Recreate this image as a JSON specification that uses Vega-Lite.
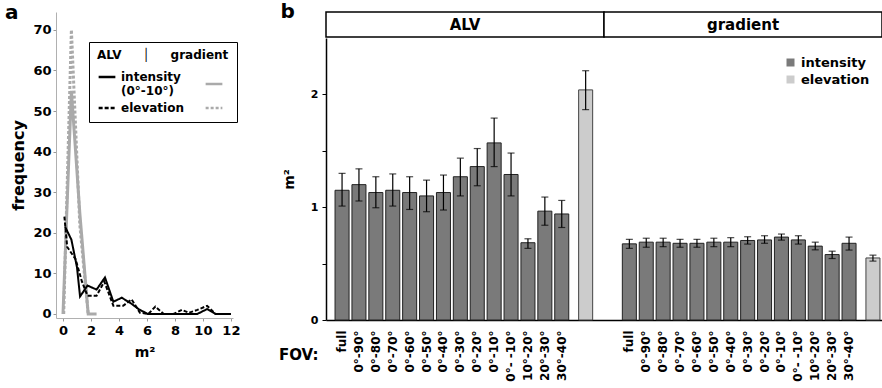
{
  "$schema": "https://vega.github.io/schema/vega-lite/v6.json",
  "padding": {"left": 4, "top": 2, "right": 0, "bottom": 0},
  "config": {
    "font": "DejaVu Sans",
    "view": {"stroke": null},
    "title": {"fontSize": 20, "fontWeight": "bold", "anchor": "start", "frame": "bounds"}
  },
  "spacing": 38,
  "resolve": {"scale": {"color": "independent", "strokeDash": "independent"}, "legend": {"color": "independent", "strokeDash": "independent"}},
  "hconcat": [
    {
      "title": {"text": "a", "offset": -11, "dx": -6},
      "width": 177,
      "height": 306,
      "data": {"values": [
        {"src": "ALV", "series": "ALV intensity", "x": 0.15, "y": 21.5},
        {"src": "ALV", "series": "ALV intensity", "x": 0.6, "y": 18.3},
        {"src": "ALV", "series": "ALV intensity", "x": 1.0, "y": 11.5},
        {"src": "ALV", "series": "ALV intensity", "x": 1.22, "y": 4.3},
        {"src": "ALV", "series": "ALV intensity", "x": 1.75, "y": 7},
        {"src": "ALV", "series": "ALV intensity", "x": 2.4, "y": 6},
        {"src": "ALV", "series": "ALV intensity", "x": 3.0, "y": 9},
        {"src": "ALV", "series": "ALV intensity", "x": 3.6, "y": 3},
        {"src": "ALV", "series": "ALV intensity", "x": 4.2, "y": 4},
        {"src": "ALV", "series": "ALV intensity", "x": 4.9, "y": 2.5},
        {"src": "ALV", "series": "ALV intensity", "x": 5.4, "y": 1.2},
        {"src": "ALV", "series": "ALV intensity", "x": 6.05, "y": 0},
        {"src": "ALV", "series": "ALV intensity", "x": 7.2, "y": 0},
        {"src": "ALV", "series": "ALV intensity", "x": 8.4, "y": 0},
        {"src": "ALV", "series": "ALV intensity", "x": 9.6, "y": 0},
        {"src": "ALV", "series": "ALV intensity", "x": 10.3, "y": 1.2},
        {"src": "ALV", "series": "ALV intensity", "x": 10.9, "y": 0},
        {"src": "ALV", "series": "ALV intensity", "x": 12.0, "y": 0},
        {"src": "ALV", "series": "ALV elevation", "x": 0.1, "y": 24},
        {"src": "ALV", "series": "ALV elevation", "x": 0.3, "y": 16.5},
        {"src": "ALV", "series": "ALV elevation", "x": 0.9, "y": 13.5},
        {"src": "ALV", "series": "ALV elevation", "x": 1.35, "y": 8},
        {"src": "ALV", "series": "ALV elevation", "x": 1.75, "y": 4.5},
        {"src": "ALV", "series": "ALV elevation", "x": 2.4, "y": 4.5},
        {"src": "ALV", "series": "ALV elevation", "x": 2.95, "y": 8},
        {"src": "ALV", "series": "ALV elevation", "x": 3.6, "y": 2},
        {"src": "ALV", "series": "ALV elevation", "x": 4.3, "y": 2},
        {"src": "ALV", "series": "ALV elevation", "x": 4.9, "y": 3.6},
        {"src": "ALV", "series": "ALV elevation", "x": 5.5, "y": 0.3},
        {"src": "ALV", "series": "ALV elevation", "x": 6.1, "y": 0},
        {"src": "ALV", "series": "ALV elevation", "x": 6.6, "y": 1.8},
        {"src": "ALV", "series": "ALV elevation", "x": 7.2, "y": 0},
        {"src": "ALV", "series": "ALV elevation", "x": 7.9, "y": 0},
        {"src": "ALV", "series": "ALV elevation", "x": 8.5, "y": 1},
        {"src": "ALV", "series": "ALV elevation", "x": 9.0, "y": 0.3},
        {"src": "ALV", "series": "ALV elevation", "x": 9.6, "y": 1},
        {"src": "ALV", "series": "ALV elevation", "x": 10.3, "y": 2},
        {"src": "ALV", "series": "ALV elevation", "x": 10.9, "y": 0},
        {"src": "ALV", "series": "ALV elevation", "x": 12.0, "y": 0},
        {"src": "gradient", "series": "gradient intensity", "x": 0.0, "y": 0},
        {"src": "gradient", "series": "gradient intensity", "x": 0.6, "y": 55},
        {"src": "gradient", "series": "gradient intensity", "x": 1.2, "y": 25},
        {"src": "gradient", "series": "gradient intensity", "x": 1.8, "y": 0},
        {"src": "gradient", "series": "gradient intensity", "x": 2.4, "y": 0},
        {"src": "gradient", "series": "gradient elevation", "x": 0.05, "y": 0},
        {"src": "gradient", "series": "gradient elevation", "x": 0.6, "y": 70},
        {"src": "gradient", "series": "gradient elevation", "x": 1.2, "y": 22},
        {"src": "gradient", "series": "gradient elevation", "x": 1.8, "y": 0}
      ]},
      "encoding": {
        "x": {"field": "x", "type": "quantitative",
          "scale": {"domain": [-0.5, 12.15], "nice": false, "zero": false},
          "axis": {"values": [0, 2, 4, 6, 8, 10, 12], "title": "m²", "grid": false,
            "labelFontSize": 13, "labelFontWeight": "bold", "labelColor": "black",
            "titleFontSize": 14, "titleFontWeight": "bold", "titlePadding": 8,
            "domainColor": "#b0b0b0", "tickColor": "#999", "tickSize": 3, "labelPadding": 3}},
        "y": {"field": "y", "type": "quantitative",
          "scale": {"domain": [-1, 74.4], "nice": false, "zero": false},
          "axis": {"values": [0, 10, 20, 30, 40, 50, 60, 70], "title": "frequency", "grid": false,
            "labelFontSize": 13, "labelFontWeight": "bold", "labelColor": "black",
            "titleFontSize": 16, "titleFontWeight": "bold", "titlePadding": 6,
            "domainColor": "#b0b0b0", "tickColor": "#999", "tickSize": 3, "labelPadding": 2}},
        "color": {"field": "series", "type": "nominal",
          "scale": {"domain": ["ALV intensity", "ALV elevation", "gradient intensity", "gradient elevation"],
                    "range": ["black", "black", "#aaaaaa", "#aaaaaa"]},
          "legend": {"orient": "none", "legendX": 33, "legendY": 30, "columns": 2,
            "title": "ALV\u00a0\u00a0\u00a0\u00a0\u00a0│\u00a0\u00a0\u00a0\u00a0\u00a0gradient",
            "titleFontSize": 12, "titleFontWeight": "bold", "titleColor": "black",
            "labelFontSize": 12, "labelFontWeight": "bold", "labelColor": "black",
            "labelExpr": "datum.value == 'ALV intensity' ? ['intensity', '(0°-10°)'] : (datum.value == 'ALV elevation' ? 'elevation' : '')",
            "symbolType": "stroke", "symbolSize": 280, "symbolStrokeWidth": 2.5,
            "strokeColor": "black", "fillColor": "white", "padding": 8, "columnPadding": 16, "rowPadding": 1}},
        "strokeDash": {"field": "series", "type": "nominal",
          "scale": {"domain": ["ALV intensity", "ALV elevation", "gradient intensity", "gradient elevation"],
                    "range": [[1, 0], [4, 2], [1, 0], [3, 2]]},
          "legend": {"orient": "none", "legendX": 33, "legendY": 30, "columns": 2,
            "title": "ALV\u00a0\u00a0\u00a0\u00a0\u00a0│\u00a0\u00a0\u00a0\u00a0\u00a0gradient",
            "titleFontSize": 12, "titleFontWeight": "bold", "titleColor": "black",
            "labelFontSize": 12, "labelFontWeight": "bold", "labelColor": "black",
            "labelExpr": "datum.value == 'ALV intensity' ? ['intensity', '(0°-10°)'] : (datum.value == 'ALV elevation' ? 'elevation' : '')",
            "symbolType": "stroke", "symbolSize": 280, "symbolStrokeWidth": 2.5,
            "strokeColor": "black", "fillColor": "white", "padding": 8, "columnPadding": 16, "rowPadding": 1}}
      },
      "layer": [
        {"transform": [{"filter": {"field": "src", "equal": "gradient"}}],
         "mark": {"type": "line", "strokeWidth": 3}},
        {"transform": [{"filter": {"field": "src", "equal": "ALV"}}],
         "mark": {"type": "line", "strokeWidth": 2}}
      ]
    },
    {
      "title": {"text": "b", "offset": -11, "dx": 2},
      "spacing": 0,
      "resolve": {"scale": {"color": "independent"}, "legend": {"color": "independent"}},
      "vconcat": [
        {
          "width": 556,
          "height": 25,
          "data": {"values": [{"group": "ALV"}, {"group": "gradient"}]},
          "encoding": {
            "x": {"field": "group", "type": "nominal", "scale": {"paddingInner": 0, "paddingOuter": 0}, "axis": null}
          },
          "layer": [
            {"mark": {"type": "rect", "fill": "white", "stroke": "black", "strokeWidth": 1.5}},
            {"mark": {"type": "text", "fontSize": 15, "fontWeight": "bold", "color": "black"},
             "encoding": {"text": {"field": "group"}}}
          ]
        },
        {
          "width": 556,
          "height": 282,
          "data": {"values": [
            {"slot": "ALV|full", "kind": "intensity", "mean": 1.15, "lo": 1.01, "hi": 1.30},
            {"slot": "ALV|0°-90°", "kind": "intensity", "mean": 1.20, "lo": 1.055, "hi": 1.34},
            {"slot": "ALV|0°-80°", "kind": "intensity", "mean": 1.13, "lo": 0.995, "hi": 1.27},
            {"slot": "ALV|0°-70°", "kind": "intensity", "mean": 1.15, "lo": 1.01, "hi": 1.295},
            {"slot": "ALV|0°-60°", "kind": "intensity", "mean": 1.13, "lo": 0.98, "hi": 1.27},
            {"slot": "ALV|0°-50°", "kind": "intensity", "mean": 1.10, "lo": 0.96, "hi": 1.24},
            {"slot": "ALV|0°-40°", "kind": "intensity", "mean": 1.13, "lo": 0.975, "hi": 1.285},
            {"slot": "ALV|0°-30°", "kind": "intensity", "mean": 1.27, "lo": 1.10, "hi": 1.435},
            {"slot": "ALV|0°-20°", "kind": "intensity", "mean": 1.36, "lo": 1.19, "hi": 1.52},
            {"slot": "ALV|0°-10°", "kind": "intensity", "mean": 1.57, "lo": 1.36, "hi": 1.79},
            {"slot": "ALV|0°- -10°", "kind": "intensity", "mean": 1.29, "lo": 1.10, "hi": 1.48},
            {"slot": "ALV|10°-20°", "kind": "intensity", "mean": 0.685, "lo": 0.635, "hi": 0.72},
            {"slot": "ALV|20°-30°", "kind": "intensity", "mean": 0.965, "lo": 0.84, "hi": 1.09},
            {"slot": "ALV|30°-40°", "kind": "intensity", "mean": 0.94, "lo": 0.82, "hi": 1.06},
            {"slot": "ALV|elevation", "kind": "elevation", "mean": 2.04, "lo": 1.865, "hi": 2.21},
            {"slot": "gradient|full", "kind": "intensity", "mean": 0.675, "lo": 0.635, "hi": 0.715},
            {"slot": "gradient|0°-90°", "kind": "intensity", "mean": 0.69, "lo": 0.645, "hi": 0.725},
            {"slot": "gradient|0°-80°", "kind": "intensity", "mean": 0.69, "lo": 0.65, "hi": 0.725},
            {"slot": "gradient|0°-70°", "kind": "intensity", "mean": 0.68, "lo": 0.645, "hi": 0.715},
            {"slot": "gradient|0°-60°", "kind": "intensity", "mean": 0.68, "lo": 0.645, "hi": 0.715},
            {"slot": "gradient|0°-50°", "kind": "intensity", "mean": 0.69, "lo": 0.65, "hi": 0.725},
            {"slot": "gradient|0°-40°", "kind": "intensity", "mean": 0.69, "lo": 0.65, "hi": 0.73},
            {"slot": "gradient|0°-30°", "kind": "intensity", "mean": 0.705, "lo": 0.673, "hi": 0.738},
            {"slot": "gradient|0°-20°", "kind": "intensity", "mean": 0.71, "lo": 0.68, "hi": 0.747},
            {"slot": "gradient|0°-10°", "kind": "intensity", "mean": 0.735, "lo": 0.708, "hi": 0.762},
            {"slot": "gradient|0°- -10°", "kind": "intensity", "mean": 0.71, "lo": 0.673, "hi": 0.747},
            {"slot": "gradient|10°-20°", "kind": "intensity", "mean": 0.655, "lo": 0.622, "hi": 0.69},
            {"slot": "gradient|20°-30°", "kind": "intensity", "mean": 0.58, "lo": 0.545, "hi": 0.61},
            {"slot": "gradient|30°-40°", "kind": "intensity", "mean": 0.68, "lo": 0.62, "hi": 0.735},
            {"slot": "gradient|elevation", "kind": "elevation", "mean": 0.55, "lo": 0.522, "hi": 0.575}
          ]},
          "encoding": {
            "x": {"field": "slot", "type": "nominal",
              "scale": {"domain": [
                "ALV|full", "ALV|0°-90°", "ALV|0°-80°", "ALV|0°-70°", "ALV|0°-60°", "ALV|0°-50°", "ALV|0°-40°",
                "ALV|0°-30°", "ALV|0°-20°", "ALV|0°-10°", "ALV|0°- -10°", "ALV|10°-20°", "ALV|20°-30°", "ALV|30°-40°",
                "ALV|elevation", "gap|1", "gap|2",
                "gradient|full", "gradient|0°-90°", "gradient|0°-80°", "gradient|0°-70°", "gradient|0°-60°", "gradient|0°-50°", "gradient|0°-40°",
                "gradient|0°-30°", "gradient|0°-20°", "gradient|0°-10°", "gradient|0°- -10°", "gradient|10°-20°", "gradient|20°-30°", "gradient|30°-40°",
                "gradient|elevation"],
                "paddingInner": 0.17, "paddingOuter": 0.535},
              "axis": {"title": "FOV:", "labelAngle": -90, "ticks": false,
                "labelExpr": "indexof(datum.value, 'elevation') >= 0 || indexof(datum.value, 'gap') == 0 ? '' : split(datum.value, '|')[1]",
                "labelFontSize": 12, "labelFontWeight": "bold", "labelColor": "black", "labelPadding": 10,
                "domainColor": "black", "domainWidth": 1.5,
                "titleFontSize": 15, "titleFontWeight": "bold", "titleColor": "black",
                "titleX": -8, "titleY": 34, "titleAlign": "right", "titleBaseline": "middle", "titleAngle": 0}},
            "y": {"field": "mean", "type": "quantitative",
              "scale": {"domain": [0, 2.5], "nice": false},
              "axis": {"values": [0, 0.5, 1, 1.5, 2], "labelExpr": "datum.value % 1 == 0 ? format(datum.value, 'd') : ''",
                "title": "m²", "grid": false, "domainColor": "black", "domainWidth": 1.5, "tickColor": "black", "tickSize": 4,
                "labelFontSize": 11, "labelFontWeight": "bold", "labelColor": "black", "labelPadding": 4,
                "titleFontSize": 14, "titleFontWeight": "bold", "titleColor": "black", "titlePadding": 14}}
          },
          "layer": [
            {
              "transform": [{"filter": {"field": "kind", "equal": "intensity"}}],
              "layer": [
                {"mark": {"type": "bar", "stroke": "#222", "strokeWidth": 1},
                 "encoding": {
                   "color": {"field": "kind", "type": "nominal",
                     "scale": {"domain": ["intensity", "elevation"], "range": ["#7a7a7a", "#cccccc"]},
                     "legend": {"orient": "none", "legendX": 458, "legendY": 18, "title": null,
                       "symbolType": "square", "symbolSize": 64, "symbolStrokeWidth": 0,
                       "labelFontSize": 13, "labelFontWeight": "bold", "labelColor": "black", "rowPadding": 3}}}},
                {"mark": {"type": "rule", "color": "black", "strokeWidth": 1.2},
                 "encoding": {"y": {"field": "lo", "type": "quantitative"}, "y2": {"field": "hi"}}},
                {"mark": {"type": "tick", "color": "black", "size": 7, "thickness": 1.2},
                 "encoding": {"y": {"field": "lo", "type": "quantitative"}}},
                {"mark": {"type": "tick", "color": "black", "size": 7, "thickness": 1.2},
                 "encoding": {"y": {"field": "hi", "type": "quantitative"}}}
              ]
            },
            {
              "transform": [{"filter": {"field": "kind", "equal": "elevation"}}],
              "layer": [
                {"mark": {"type": "bar", "stroke": "#444", "strokeWidth": 1, "xOffset": 7},
                 "encoding": {
                   "color": {"field": "kind", "type": "nominal",
                     "scale": {"domain": ["intensity", "elevation"], "range": ["#7a7a7a", "#cccccc"]},
                     "legend": {"orient": "none", "legendX": 458, "legendY": 18, "title": null,
                       "symbolType": "square", "symbolSize": 64, "symbolStrokeWidth": 0,
                       "labelFontSize": 13, "labelFontWeight": "bold", "labelColor": "black", "rowPadding": 3}}}},
                {"mark": {"type": "rule", "color": "black", "strokeWidth": 1.2, "xOffset": 7},
                 "encoding": {"y": {"field": "lo", "type": "quantitative"}, "y2": {"field": "hi"}}},
                {"mark": {"type": "tick", "color": "black", "size": 7, "thickness": 1.2, "xOffset": 7},
                 "encoding": {"y": {"field": "lo", "type": "quantitative"}}},
                {"mark": {"type": "tick", "color": "black", "size": 7, "thickness": 1.2, "xOffset": 7},
                 "encoding": {"y": {"field": "hi", "type": "quantitative"}}}
              ]
            }
          ]
        }
      ]
    }
  ]
}
